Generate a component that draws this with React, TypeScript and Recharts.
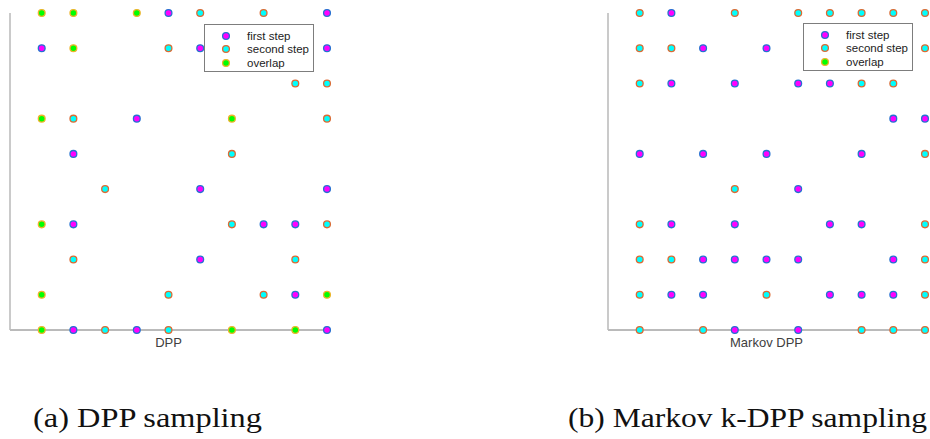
import React from 'react';
import { ScatterChart, Scatter, XAxis, YAxis, Legend } from 'recharts';

type Pt = { x: number; y: number };

// DPP panel (column index, row index)
const dppFirst: Pt[] = [
  { x: 5, y: 10 }, { x: 10, y: 10 },
  { x: 1, y: 9 }, { x: 6, y: 9 }, { x: 10, y: 9 },
  { x: 4, y: 7 },
  { x: 2, y: 6 },
  { x: 6, y: 5 }, { x: 10, y: 5 },
  { x: 2, y: 4 }, { x: 8, y: 4 }, { x: 9, y: 4 },
  { x: 6, y: 3 },
  { x: 9, y: 2 },
  { x: 2, y: 1 }, { x: 4, y: 1 }, { x: 10, y: 1 },
];
const dppSecond: Pt[] = [
  { x: 6, y: 10 }, { x: 8, y: 10 },
  { x: 5, y: 9 },
  { x: 9, y: 8 }, { x: 10, y: 8 },
  { x: 2, y: 7 }, { x: 10, y: 7 },
  { x: 7, y: 6 },
  { x: 3, y: 5 },
  { x: 7, y: 4 }, { x: 10, y: 4 },
  { x: 2, y: 3 }, { x: 9, y: 3 },
  { x: 5, y: 2 }, { x: 8, y: 2 },
  { x: 3, y: 1 }, { x: 5, y: 1 },
];
const dppOverlap: Pt[] = [
  { x: 1, y: 10 }, { x: 2, y: 10 }, { x: 4, y: 10 },
  { x: 2, y: 9 },
  { x: 1, y: 7 }, { x: 7, y: 7 },
  { x: 1, y: 4 },
  { x: 1, y: 2 }, { x: 10, y: 2 },
  { x: 1, y: 1 }, { x: 7, y: 1 }, { x: 9, y: 1 },
];

// Markov DPP panel
const mdppFirst: Pt[] = [
  { x: 2, y: 10 },
  { x: 3, y: 9 }, { x: 5, y: 9 },
  { x: 2, y: 8 }, { x: 4, y: 8 }, { x: 6, y: 8 }, { x: 7, y: 8 },
  { x: 9, y: 7 }, { x: 10, y: 7 },
  { x: 1, y: 6 }, { x: 3, y: 6 }, { x: 5, y: 6 }, { x: 8, y: 6 },
  { x: 6, y: 5 },
  { x: 2, y: 4 }, { x: 4, y: 4 }, { x: 7, y: 4 }, { x: 8, y: 4 },
  { x: 3, y: 3 }, { x: 4, y: 3 }, { x: 5, y: 3 }, { x: 6, y: 3 }, { x: 9, y: 3 },
  { x: 2, y: 2 }, { x: 3, y: 2 }, { x: 7, y: 2 }, { x: 8, y: 2 }, { x: 9, y: 2 },
  { x: 4, y: 1 }, { x: 6, y: 1 },
];
const mdppSecond: Pt[] = [
  { x: 1, y: 10 }, { x: 4, y: 10 }, { x: 6, y: 10 }, { x: 7, y: 10 }, { x: 8, y: 10 }, { x: 9, y: 10 }, { x: 10, y: 10 },
  { x: 1, y: 9 }, { x: 2, y: 9 }, { x: 10, y: 9 },
  { x: 1, y: 8 }, { x: 8, y: 8 }, { x: 9, y: 8 },
  { x: 10, y: 6 },
  { x: 4, y: 5 },
  { x: 1, y: 4 }, { x: 10, y: 4 },
  { x: 1, y: 3 }, { x: 2, y: 3 }, { x: 10, y: 3 },
  { x: 1, y: 2 }, { x: 5, y: 2 }, { x: 10, y: 2 },
  { x: 1, y: 1 }, { x: 3, y: 1 }, { x: 8, y: 1 }, { x: 9, y: 1 }, { x: 10, y: 1 },
];
const mdppOverlap: Pt[] = [];

const seriesNames = ['first step', 'second step', 'overlap'];
const captions = ['(a) DPP sampling', '(b) Markov k-DPP sampling'];
const axisTitles = ['DPP', 'Markov DPP'];

const STYLE: Record<string, { fill: string; stroke: string }> = {
  'first step': { fill: '#ff00ff', stroke: '#2472d0' },
  'second step': { fill: '#00ffff', stroke: '#dc6a33' },
  overlap: { fill: '#00ff00', stroke: '#eeb42a' },
};

const makeShape = (name: string) => (props: any) => {
  const s = STYLE[name];
  return <circle cx={props.cx} cy={props.cy} r={3.4} fill={s.fill} stroke={s.stroke} strokeWidth={1.3} />;
};

const LegendBox = (props: any) => {
  const payload = [...(props.payload || [])].sort(
    (a: any, b: any) => seriesNames.indexOf(a.value) - seriesNames.indexOf(b.value)
  );
  return (
    <div
      style={{
        position: 'relative',
        width: 110,
        height: 48,
        boxSizing: 'border-box',
        border: '1px solid #7d7d7d',
        background: '#fff',
        fontFamily: '"Liberation Sans", Arial, sans-serif',
        fontSize: 11.5,
        color: '#222',
      }}
    >
      {payload.map((p: any, i: number) => {
        const s = STYLE[p.value];
        const cy = 10.5 + i * 13.5;
        return (
          <div key={p.value} style={{ position: 'absolute', left: 0, top: cy - 7, height: 14, width: 108 }}>
            <svg width={30} height={14} style={{ position: 'absolute', left: 0, top: 0 }}>
              <circle cx={21} cy={7} r={3.4} fill={s.fill} stroke={s.stroke} strokeWidth={1.3} />
            </svg>
            <span style={{ position: 'absolute', left: 42, top: 0, lineHeight: '14px', whiteSpace: 'nowrap' }}>{p.value}</span>
          </div>
        );
      })}
    </div>
  );
};

const Panel = (p: {
  left: number;
  width: number;
  yAxisWidth: number;
  marginRight: number;
  title: string;
  first: Pt[];
  second: Pt[];
  overlap: Pt[];
  legendLeft: number;
  legendTop: number;
}) => (
  <div style={{ position: 'absolute', left: p.left, top: 0 }}>
    <ScatterChart width={p.width} height={439} margin={{ top: 13, right: p.marginRight, bottom: 92, left: 0 }}>
      <XAxis
        type="number"
        dataKey="x"
        domain={[0, 10]}
        ticks={[]}
        tick={false}
        tickLine={false}
        axisLine={{ stroke: '#777', strokeWidth: 1 }}
        height={17}
        label={{ value: p.title, position: 'insideBottom', offset: 0, fill: '#404040', fontSize: 13, fontFamily: '"Liberation Sans", Arial, sans-serif' }}
      />
      <YAxis
        type="number"
        dataKey="y"
        domain={[1, 10]}
        ticks={[]}
        tick={false}
        tickLine={false}
        width={p.yAxisWidth}
        axisLine={{ stroke: '#bdbdbd', strokeWidth: 1.6 }}
      />
      <Legend
        layout="vertical"
        align="center"
        verticalAlign="middle"
        content={<LegendBox />}
        wrapperStyle={{ position: 'absolute', left: p.legendLeft, top: p.legendTop, width: 110, height: 48 }}
      />
      <Scatter name={seriesNames[0]} data={p.first} shape={makeShape(seriesNames[0])} isAnimationActive={false} />
      <Scatter name={seriesNames[1]} data={p.second} shape={makeShape(seriesNames[1])} isAnimationActive={false} />
      <Scatter name={seriesNames[2]} data={p.overlap} shape={makeShape(seriesNames[2])} isAnimationActive={false} />
    </ScatterChart>
  </div>
);

export default function App() {
  return (
    <div style={{ position: 'absolute', left: 0, top: 0, width: 930, height: 439, background: '#fff', overflow: 'hidden' }}>
      <Panel left={0} width={340} yAxisWidth={10} marginRight={13} title={axisTitles[0]}
        first={dppFirst} second={dppSecond} overlap={dppOverlap} legendLeft={204} legendTop={24} />
      <Panel left={600} width={330} yAxisWidth={8} marginRight={5} title={axisTitles[1]}
        first={mdppFirst} second={mdppSecond} overlap={mdppOverlap} legendLeft={203} legendTop={23} />
      <svg width={930} height={60} style={{ position: 'absolute', left: 0, top: 379 }}>
        <text x={33} y={48} fontFamily='"Liberation Serif", "Times New Roman", serif' fontSize={28} fill="#111"
          textLength={229} lengthAdjust="spacingAndGlyphs">{captions[0]}</text>
        <text x={568} y={48} fontFamily='"Liberation Serif", "Times New Roman", serif' fontSize={28} fill="#111"
          textLength={359} lengthAdjust="spacingAndGlyphs">{captions[1]}</text>
      </svg>
    </div>
  );
}
